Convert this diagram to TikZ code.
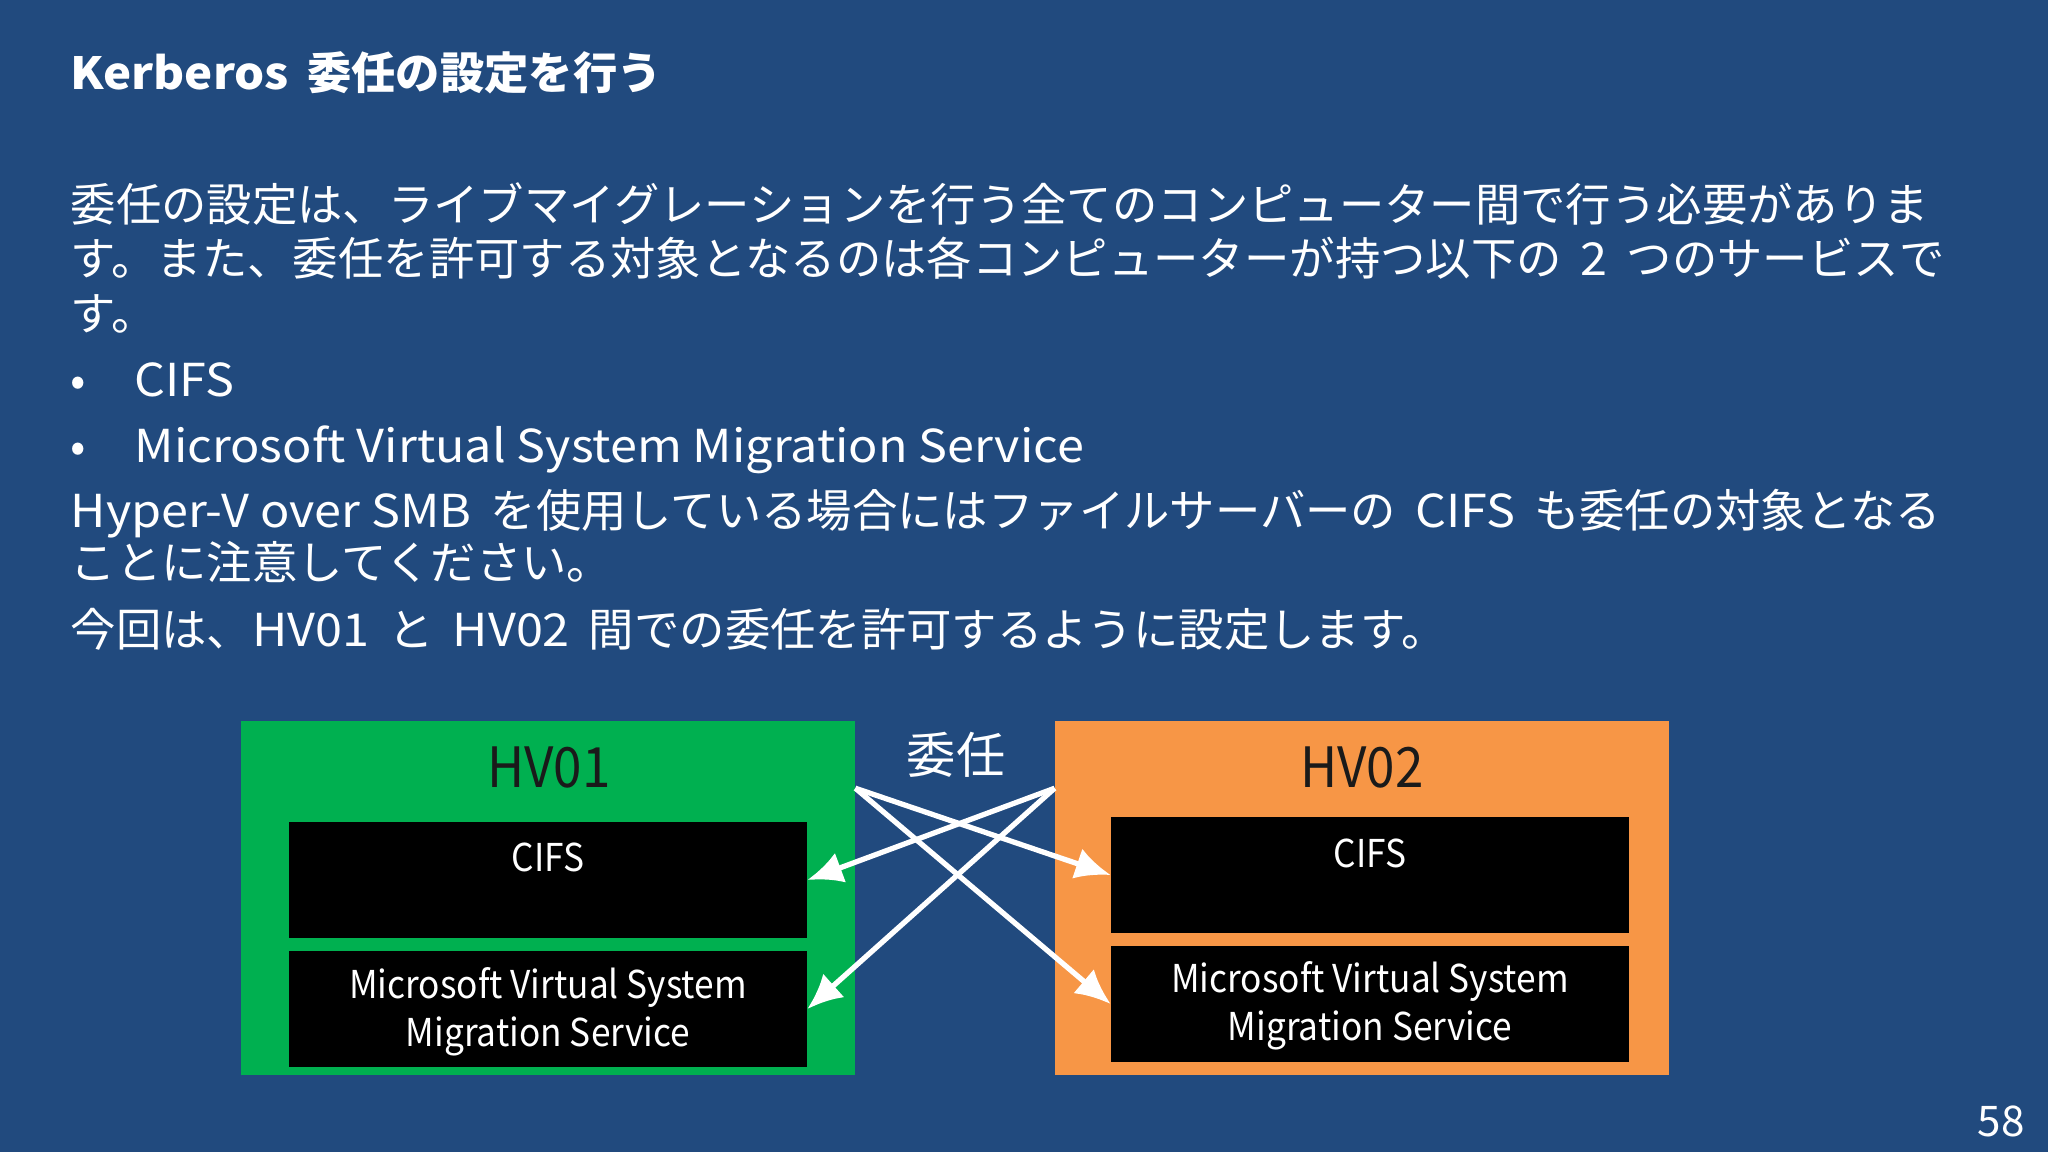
\documentclass[tikz,border=0pt]{standalone}
\usepackage{fontspec}
\setmainfont{Noto Sans CJK JP}
\newfontfamily\latf{Noto Sans CJK JP}[FakeStretch=1.07]
\newfontfamily\boxf{Noto Sans CJK JP}[FakeStretch=0.92]
\newcommand\lt[1]{{\latf #1}}
\newcommand\gap{\hspace{0.42em}}
\usetikzlibrary{arrows.meta}
\definecolor{bg}{HTML}{214A7E}
\definecolor{hvgreen}{HTML}{00B050}
\definecolor{hvorange}{HTML}{F79646}
\definecolor{hvtext}{HTML}{1A1A1A}
\tikzset{
  body/.style={anchor=west, text=white, inner sep=0pt, text height=0.88em, text depth=0.12em, font=\fontsize{12.9}{15}\selectfont},
  title/.style={anchor=west, text=white, inner sep=0pt, text height=0.88em, text depth=0.12em, font=\fontsize{12.6}{15}\selectfont\bfseries},
  host/.style={draw=none, inner sep=0pt, minimum width=6.13cm, minimum height=3.54cm},
  svc/.style={fill=black, inner sep=0pt, minimum width=5.17cm, minimum height=1.16cm},
  hvlabel/.style={text=hvtext, inner sep=0pt, font=\boxf\fontsize{15.8}{18}\selectfont},
  svclabel/.style={text=white, inner sep=0pt, align=center, font=\boxf\fontsize{10.9}{13.6}\selectfont},
  deleg/.style={draw=white, line width=1.5pt, -{Latex[length=10pt,width=9pt]}}
}
\begin{document}
\begin{tikzpicture}[x=0.01cm,y=-0.01cm]
\path[fill=bg] (0,0) rectangle (2048,1152);
\useasboundingbox (0,0) rectangle (2048,1152);
% title and text
\node[title] (ttl) at (70,76) {\lt{Kerberos}\gap 委任の設定を行う};
\node[body] (l1) at (70,208) {委任の設定は、ライブマイグレーションを行う全てのコンピューター間で行う必要がありま};
\node[body] (l2) at (70,262) {す。また、委任を許可する対象となるのは各コンピューターが持つ以下の\gap\lt{2}\gap つのサービスで};
\node[body] (l3) at (70,317) {す。};
\node[body] (b1) at (70,383) {•};
\node[body] (l4) at (134,383) {\lt{CIFS}};
\node[body] (b2) at (70,449) {•};
\node[body] (l5) at (134,449) {\lt{Microsoft Virtual System Migration Service}};
\node[body] (l6) at (70,514) {\lt{Hyper-V over SMB}\gap を使用している場合にはファイルサーバーの\gap\lt{CIFS}\gap も委任の対象となる};
\node[body] (l7) at (70,566) {ことに注意してください。};
\node[body] (l8) at (70,633) {今回は、\lt{HV01}\gap と\gap\lt{HV02}\gap 間での委任を許可するように設定します。};
% hosts
\node[host, fill=hvgreen] (hv01) at (548,898) {};
\node[host, fill=hvorange] (hv02) at (1362,898) {};
\node[hvlabel] (hv01t) at (549,767) {HV01};
\node[hvlabel] (hv02t) at (1362,767) {HV02};
\node[svc] (lcifs) at (548,880) {};
\node[svc] (lms) at (548,1009) {};
\node[svc] (rcifs) at (1370,875) {};
\node[svc] (rms) at (1370,1004) {};
\node[svclabel] (lcifst) at (548,857) {CIFS};
\node[svclabel] (rcifst) at (1370,853) {CIFS};
\node[svclabel] (lmst) at (548,1012) {Microsoft Virtual System\\Migration Service};
\node[svclabel] (rmst) at (1370,1006) {Microsoft Virtual System\\Migration Service};
\node[text=white, inner sep=0pt, font=\fontsize{14}{16}\selectfont] (dlg) at (956,755) {委任};
% delegation arrows
\coordinate (s1) at ([yshift=-0.68cm]hv01.north east);
\coordinate (s2) at ([yshift=-0.68cm]hv02.north west);
\draw[deleg] (s1) -- (rcifs.west);
\draw[deleg] (s1) -- (rms.west);
\draw[deleg] (s2) -- (lcifs.east);
\draw[deleg] (s2) -- (lms.east);
% page number
\node[text=white, inner sep=0pt, font=\fontsize{12}{14}\selectfont] (pg) at (2001,1121) {58};
\end{tikzpicture}
\end{document}
